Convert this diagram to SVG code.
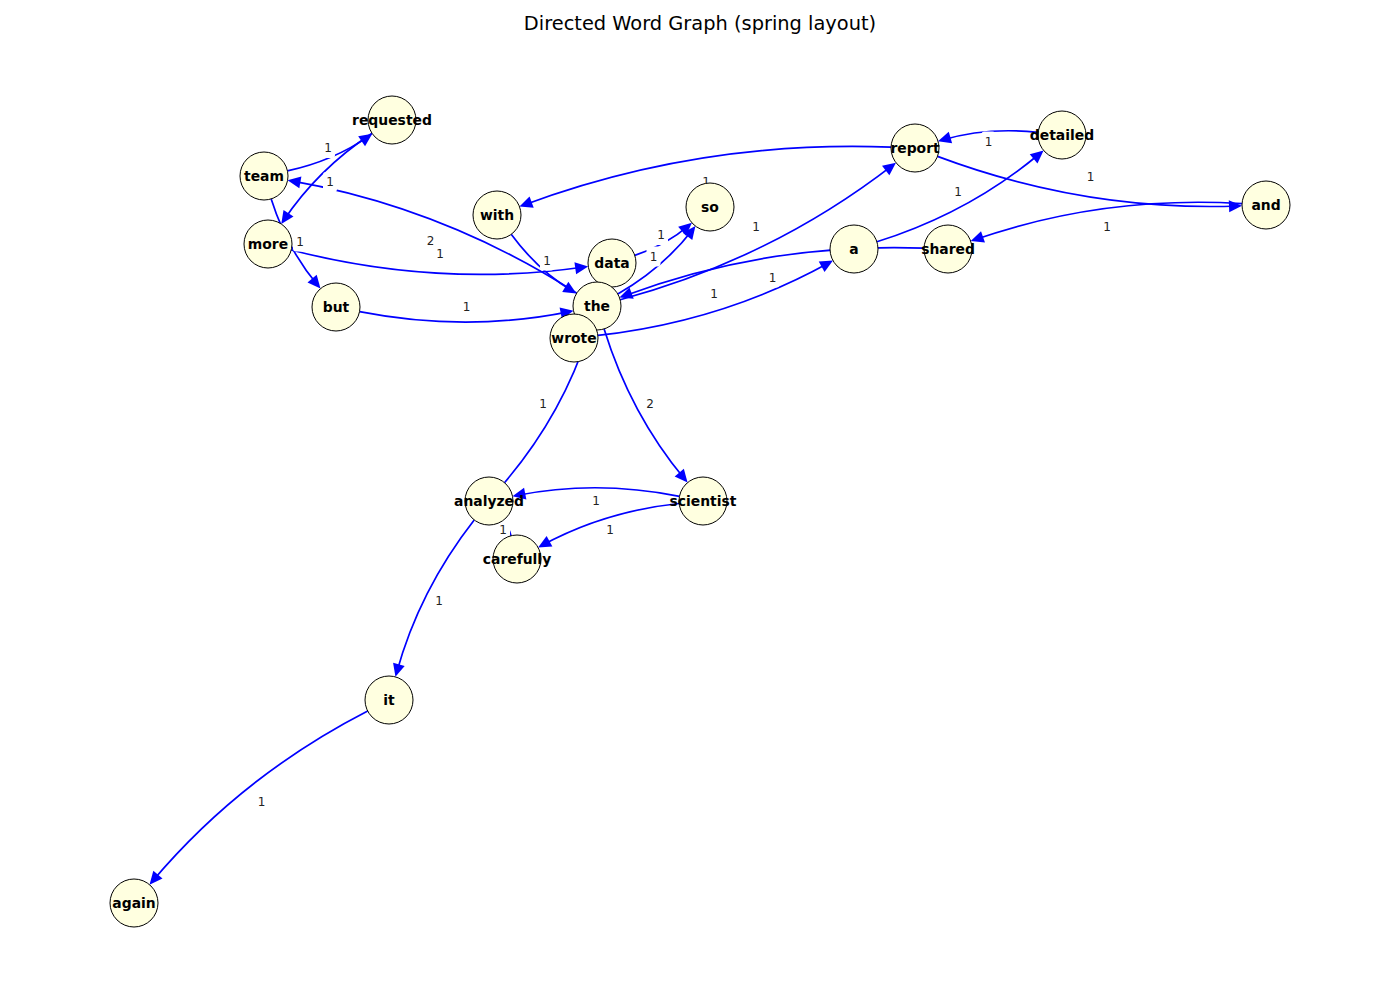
<svg xmlns="http://www.w3.org/2000/svg" width="1400" height="1000" viewBox="0 0 1400 1000">
<defs>
<marker id="ah" markerUnits="userSpaceOnUse" markerWidth="13" markerHeight="12" viewBox="0 0 13 12" refX="9" refY="6" orient="auto" overflow="visible">
<path d="M0,0 L13,6 L0,12 z" fill="#0000FF"/>
</marker>
</defs>
<style>
.bg{fill:#ffffff}
.title{font-family:"DejaVu Sans",sans-serif;font-size:19.4px;fill:#000}
.edge{fill:none;stroke:#0000FF;stroke-width:1.7;marker-end:url(#ah)}
.edge.short{marker-end:none}
.lb rect{fill:#ffffff;stroke:none}
.lb text{font-family:"DejaVu Sans",sans-serif;font-size:12px;fill:#222;text-anchor:middle;dominant-baseline:central}
.node circle{fill:#FFFFE0;stroke:#000;stroke-width:1}
.node text{font-family:"DejaVu Sans",sans-serif;font-weight:bold;font-size:13.9px;fill:#000;text-anchor:middle;dominant-baseline:central}
</style>
<rect class="bg" x="0" y="0" width="1400" height="1000"/>
<text class="title" x="700" y="30" text-anchor="middle">Directed Word Graph (spring layout)</text>

<g id="connectors">
<path class="edge" d="M287.4,170.9 Q333.6,160.8 369.0,136.1"/>
<path class="edge" d="M372.0,133.3 Q317.6,169.6 283.5,220.7"/>
<path class="edge" d="M271.2,198.9 Q286.9,248.7 317.9,285.5"/>
<path class="edge" d="M576.8,293.1 Q443.5,207.7 291.5,180.9"/>
<path class="edge" d="M291.2,250.0 Q438.1,287.9 584.2,267.0"/>
<path class="edge" d="M511.2,234.3 Q537.9,270.5 573.0,291.5"/>
<path class="edge" d="M359.5,311.6 Q466.6,332.6 569.6,311.6"/>
<path class="edge" d="M891.0,147.1 Q699.3,139.7 523.2,205.2"/>
<path class="edge" d="M634.8,255.4 Q666.6,244.8 688.9,225.3"/>
<path class="edge" d="M617.8,294.0 Q663.4,267.8 693.0,229.2"/>
<path class="edge" d="M620.2,299.7 Q771.8,258.8 892.8,165.1"/>
<path class="edge" d="M924.0,248.1 Q766.8,242.4 623.2,296.2"/>
<path class="edge" d="M597.9,335.4 Q722.9,321.5 829.5,262.5"/>
<path class="edge" d="M876.9,241.8 Q969.4,212.8 1040.5,153.0"/>
<path class="edge" d="M1038.1,132.4 Q987.2,126.8 941.8,140.1"/>
<path class="edge" d="M937.5,156.4 Q1084.8,211.6 1238.0,206.0"/>
<path class="edge" d="M1242.0,203.6 Q1102.6,195.2 974.5,239.8"/>
<path class="edge" d="M504.5,482.7 Q562.5,414.3 588.5,332.7"/>
<path class="edge" d="M604.1,328.9 Q630.5,414.1 685.0,479.5"/>
<path class="edge" d="M679.5,496.3 Q596,479.6 516.4,495.5"/>
<path class="edge" d="M679.1,503.5 Q604.2,511.4 541.6,545.6"/>
<path class="edge short" d="M511.0,535.7 Q508.8,527.2 503.5,520.2"/>
<path class="edge" d="M474.2,519.9 Q419.1,590.5 396.5,673.0"/>
<path class="edge" d="M367.7,711.0 Q241.2,776 152.1,881.6"/>
</g>

<g id="edge-labels" class="lb">
<rect x="321" y="138" width="14" height="20" rx="3"/><text x="328" y="148">1</text>
<rect x="323" y="172" width="14" height="20" rx="3"/><text x="330" y="182">1</text>
<rect x="293" y="231.5" width="14" height="20" rx="3"/><text x="300" y="241.5">1</text>
<rect x="423.5" y="231" width="14" height="20" rx="3"/><text x="430.5" y="241">2</text>
<rect x="433" y="243.5" width="14" height="20" rx="3"/><text x="440" y="253.5">1</text>
<rect x="540" y="250.5" width="14" height="20" rx="3"/><text x="547" y="260.5">1</text>
<rect x="459.5" y="296.5" width="14" height="20" rx="3"/><text x="466.5" y="306.5">1</text>
<rect x="699" y="171.5" width="14" height="20" rx="3"/><text x="706" y="181.5">1</text>
<rect x="654" y="225" width="14" height="20" rx="3"/><text x="661" y="235">1</text>
<rect x="646.5" y="246.5" width="14" height="20" rx="3"/><text x="653.5" y="256.5">1</text>
<rect x="749" y="217" width="14" height="20" rx="3"/><text x="756" y="227">1</text>
<rect x="765.5" y="267.5" width="14" height="20" rx="3"/><text x="772.5" y="277.5">1</text>
<rect x="707" y="283.5" width="14" height="20" rx="3"/><text x="714" y="293.5">1</text>
<rect x="951" y="182" width="14" height="20" rx="3"/><text x="958" y="192">1</text>
<rect x="981.5" y="131.5" width="14" height="20" rx="3"/><text x="988.5" y="141.5">1</text>
<rect x="1083.5" y="166.5" width="14" height="20" rx="3"/><text x="1090.5" y="176.5">1</text>
<rect x="1100" y="217" width="14" height="20" rx="3"/><text x="1107" y="227">1</text>
<rect x="536" y="393.5" width="14" height="20" rx="3"/><text x="543" y="403.5">1</text>
<rect x="643" y="393.5" width="14" height="20" rx="3"/><text x="650" y="403.5">2</text>
<rect x="589" y="491" width="14" height="20" rx="3"/><text x="596" y="501">1</text>
<rect x="603" y="520" width="14" height="20" rx="3"/><text x="610" y="530">1</text>
<rect x="496" y="520" width="14" height="20" rx="3"/><text x="503" y="530">1</text>
<rect x="432" y="590.5" width="14" height="20" rx="3"/><text x="439" y="600.5">1</text>
<rect x="254.5" y="791.5" width="14" height="20" rx="3"/><text x="261.5" y="801.5">1</text>
</g>

<g id="node-requested" class="node"><circle cx="392" cy="120" r="24"/><text x="392" y="120">requested</text></g>
<g id="node-team" class="node"><circle cx="264" cy="176" r="24"/><text x="264" y="176">team</text></g>
<g id="node-more" class="node"><circle cx="268" cy="244" r="24"/><text x="268" y="244">more</text></g>
<g id="node-but" class="node"><circle cx="336" cy="307" r="24"/><text x="336" y="307">but</text></g>
<g id="node-with" class="node"><circle cx="497" cy="215" r="24"/><text x="497" y="215">with</text></g>
<g id="node-so" class="node"><circle cx="710" cy="207" r="24"/><text x="710" y="207">so</text></g>
<g id="node-data" class="node"><circle cx="612" cy="263" r="24"/><text x="612" y="263">data</text></g>
<g id="node-the" class="node"><circle cx="597" cy="306" r="24"/><text x="597" y="306">the</text></g>
<g id="node-wrote" class="node"><circle cx="574" cy="338" r="24"/><text x="574" y="338">wrote</text></g>
<g id="node-report" class="node"><circle cx="915" cy="148" r="24"/><text x="915" y="148">report</text></g>
<g id="node-detailed" class="node"><circle cx="1062" cy="135" r="24"/><text x="1062" y="135">detailed</text></g>
<g id="node-and" class="node"><circle cx="1266" cy="205" r="24"/><text x="1266" y="205">and</text></g>
<g id="node-a" class="node"><circle cx="854" cy="249" r="24"/><text x="854" y="249">a</text></g>
<g id="node-shared" class="node"><circle cx="948" cy="249" r="24"/><text x="948" y="249">shared</text></g>
<g id="node-analyzed" class="node"><circle cx="489" cy="501" r="24"/><text x="489" y="501">analyzed</text></g>
<g id="node-scientist" class="node"><circle cx="703" cy="501" r="24"/><text x="703" y="501">scientist</text></g>
<g id="node-carefully" class="node"><circle cx="517" cy="559" r="24"/><text x="517" y="559">carefully</text></g>
<g id="node-it" class="node"><circle cx="389" cy="700" r="24"/><text x="389" y="700">it</text></g>
<g id="node-again" class="node"><circle cx="134" cy="903" r="24"/><text x="134" y="903">again</text></g>
</svg>
